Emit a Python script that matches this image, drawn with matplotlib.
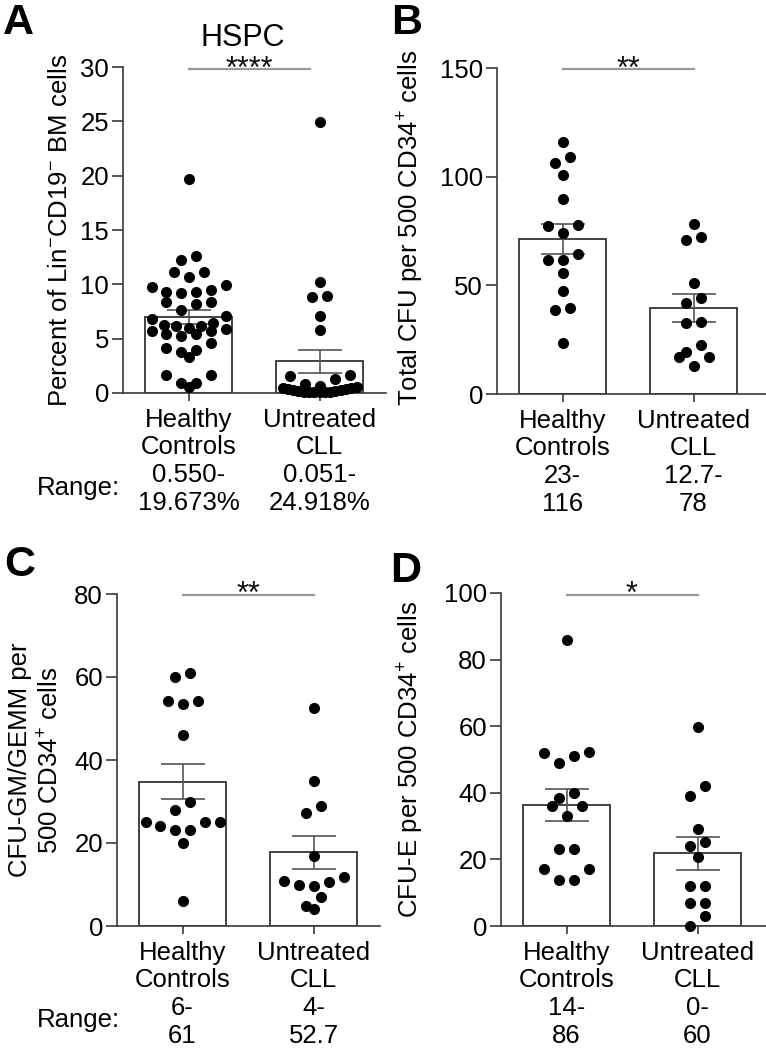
import matplotlib
matplotlib.use('Agg')
import matplotlib.pyplot as plt
import numpy as np
from matplotlib.transforms import offset_copy

plt.rcParams['font.family'] = ['Liberation Sans', 'DejaVu Sans']
plt.rcParams['mathtext.fontset'] = 'custom'
plt.rcParams['mathtext.rm'] = 'Liberation Sans'
plt.rcParams['mathtext.it'] = 'Liberation Sans:italic'
plt.rcParams['mathtext.bf'] = 'Liberation Sans:bold'

W, H = 766, 1050
FS = 18.5

groups = ['Healthy\nControls', 'Untreated\nCLL']

# panel A - HSPC (% of Lin-CD19- BM cells)
a_healthy = [19.67, 12.6, 12.2, 11.1, 11.1, 10.7, 9.9, 9.8, 9.5, 9.3, 9.3, 9.2,
             8.4, 8.4, 8.2, 7.6, 7.1, 6.8, 6.4, 6.3, 6.2, 6.2, 6.0, 5.9, 5.7,
             5.7, 5.4, 5.4, 5.2, 4.6, 4.1, 4.0, 3.8, 3.3, 1.7, 1.65, 0.9, 0.9, 0.55]
a_cll = [24.9, 10.2, 8.95, 8.8, 7.05, 5.8, 1.7, 1.55, 1.3, 0.85, 0.6, 0.55, 0.5,
         0.45, 0.4, 0.35, 0.3, 0.25, 0.2, 0.15, 0.12, 0.1, 0.08, 0.07, 0.06, 0.051]
a_means = [7.0, 2.9]
a_sems = [0.65, 1.07]
a_ranges = ['0.550-\n19.673%', '0.051-\n24.918%']

# panel B - total CFU
b_healthy = [116, 109, 106.4, 100.7, 89.5, 77.8, 77.3, 73.9, 64.3, 61.5, 61.5,
             55.9, 47.6, 39.5, 38.7, 23.4]
b_cll = [78, 72.1, 70.9, 51.3, 44.1, 42.1, 32.6, 32.9, 22.7, 17, 17, 19.1, 12.7]
b_means = [71.3, 39.5]
b_sems = [6.9, 6.35]
b_ranges = ['23-\n116', '12.7-\n78']

# panel C - CFU-GM/GEMM
c_healthy = [60.1, 61, 54.1, 53.4, 54.3, 46, 30, 28, 25.1, 23.1, 24.1, 25.1,
             23.1, 25.1, 20.1, 6]
c_cll = [52.6, 34.9, 29, 27.3, 16.9, 10.9, 9.9, 9.6, 10.7, 11.9, 7.1, 4, 4.9]
c_means = [34.8, 17.75]
c_sems = [4.25, 4.0]
c_ranges = ['6-\n61', '4-\n52.7']

# panel D - CFU-E
d_healthy = [86, 52.1, 52.2, 51.1, 48.9, 39.9, 38.4, 36.1, 36.1, 32.9, 23.1,
             23.1, 17.1, 17.1, 13.8, 13.8]
d_cll = [59.9, 41.9, 38.9, 29.1, 24.1, 25.2, 20.8, 12, 12, 7, 6.8, 3, 0]
d_means = [36.4, 21.8]
d_sems = [4.85, 4.95]
d_ranges = ['14-\n86', '0-\n60']

stars = ['****', '**', '**', '*']


def swarm_offsets(ax, values, row_px=12, step_px=15, max_px=74):
    values = np.asarray(values, dtype=float)
    # pixels per data unit
    p0 = ax.transData.transform((0, 0))
    p1 = ax.transData.transform((1, 1))
    ppx, ppy = p1[0] - p0[0], p1[1] - p0[1]
    order = np.argsort(-values, kind='stable')
    rows, cur, top = [], [], None
    for i in order:
        if top is None or (top - values[i]) * ppy > row_px:
            if cur:
                rows.append(cur)
            cur, top = [i], values[i]
        else:
            cur.append(i)
    rows.append(cur)
    offs = np.zeros(len(values))
    for row in rows:
        n = len(row)
        step = min(step_px, max_px / (n - 1)) if n > 1 else 0
        slots = [(k - (n - 1) / 2) * step for k in range(n)]
        slot_order = sorted(range(n), key=lambda k: (round(abs(slots[k]), 6), slots[k]))
        for rank, idx in enumerate(sorted(row, key=lambda j: values[j])):
            offs[idx] = slots[slot_order[rank]] / ppx
    return offs


def panel(fig, left, top, right, bottom, ylim, yticks, healthy, cll, means, sems,
          ranges, star, sig_y, sig_x1=1.0):
    ax = fig.add_axes([left / W, 1 - bottom / H, (right - left) / W, (bottom - top) / H])
    xmax = (right - left) / 131.0 - 0.5
    ax.set_xlim(-0.5, xmax)
    ax.set_ylim(*ylim)
    for s in ['top', 'right']:
        ax.spines[s].set_visible(False)
    for s in ['left', 'bottom']:
        ax.spines[s].set_color('#3a3a3a')
        ax.spines[s].set_linewidth(1.2)
    pos = np.arange(2)
    ax.bar(pos, means, width=0.67, color='white', edgecolor='#333333', linewidth=1.3, zorder=1)
    ax.errorbar(pos, means, yerr=sems, fmt='none', ecolor='#555555', elinewidth=1.2,
                capsize=15.5, capthick=1.2, zorder=2)
    for p, vals in zip(pos, [healthy, cll]):
        xo = swarm_offsets(ax, vals)
        ax.plot(p + xo, vals, 'o', color='black', ms=8, mew=0, zorder=3, clip_on=False)
    ax.set_yticks(yticks)
    ax.set_xticks(pos)
    ax.set_xticklabels([g + '\n' + r for g, r in zip(groups, ranges)], linespacing=1.2)
    ax.tick_params(axis='y', direction='out', length=8, width=1.2, color='#3a3a3a',
                   labelsize=FS, pad=2)
    ax.tick_params(axis='x', direction='out', length=6, width=1.2, color='#3a3a3a',
                   labelsize=FS, pad=4.5)
    # significance bar
    ax.plot([0, sig_x1], [sig_y, sig_y], color='#999999', lw=1.6, clip_on=False, zorder=4)
    tr = offset_copy(ax.transData, fig=fig, x=0, y=-6, units='points')
    ax.text(sig_x1 / 2, sig_y, star, transform=tr, ha='center', va='baseline',
            fontsize=22, color='#111111')
    return ax


fig = plt.figure(figsize=(W / 100, H / 100), dpi=100)

panel(fig, 123, 67, 386, 393, (0, 30), [0, 5, 10, 15, 20, 25, 30], a_healthy, a_cll,
      a_means, a_sems, a_ranges, stars[0], 29.8, 0.93)
panel(fig, 497, 68, 766, 394, (0, 150), [0, 50, 100, 150], b_healthy, b_cll,
      b_means, b_sems, b_ranges, stars[1], 149.5)
panel(fig, 117, 594, 380, 926, (0, 80), [0, 20, 40, 60, 80], c_healthy, c_cll,
      c_means, c_sems, c_ranges, stars[2], 79.8)
panel(fig, 501, 593, 766, 926, (0, 100), [0, 20, 40, 60, 80, 100], d_healthy, d_cll,
      d_means, d_sems, d_ranges, stars[3], 99.4)

# y labels
fig.text(60 / W, 1 - 230 / H, r'Percent of Lin$^{-}$CD19$^{-}$ BM cells', rotation=90,
         ha='center', va='center', fontsize=FS)
fig.text(411 / W, 1 - 228 / H, r'Total CFU per 500 CD34$^{+}$ cells', rotation=90,
         ha='center', va='center', fontsize=FS)
fig.text(36 / W, 1 - 760 / H, 'CFU-GM/GEMM per\n' + r'500 CD34$^{+}$ cells', rotation=90,
         ha='center', va='center', fontsize=FS, multialignment='center', linespacing=1.3)
fig.text(411 / W, 1 - 759 / H, r'CFU-E per 500 CD34$^{+}$ cells', rotation=90,
         ha='center', va='center', fontsize=FS)

# range labels
fig.text(78 / W, 1 - 488 / H, 'Range:', ha='center', va='center', fontsize=FS)
fig.text(78 / W, 1 - 1020 / H, 'Range:', ha='center', va='center', fontsize=FS)

# panel letters and title
for letter, x, y in [('A', 18, 3), ('B', 407, 3), ('C', 20, 545), ('D', 406, 551)]:
    fig.text(x / W, 1 - y / H, letter, ha='center', va='top', fontsize=31,
             fontweight='bold')
fig.text(243 / W, 1 - 38 / H, 'HSPC', ha='center', va='center', fontsize=22)

fig.savefig('out.png', dpi=100)
